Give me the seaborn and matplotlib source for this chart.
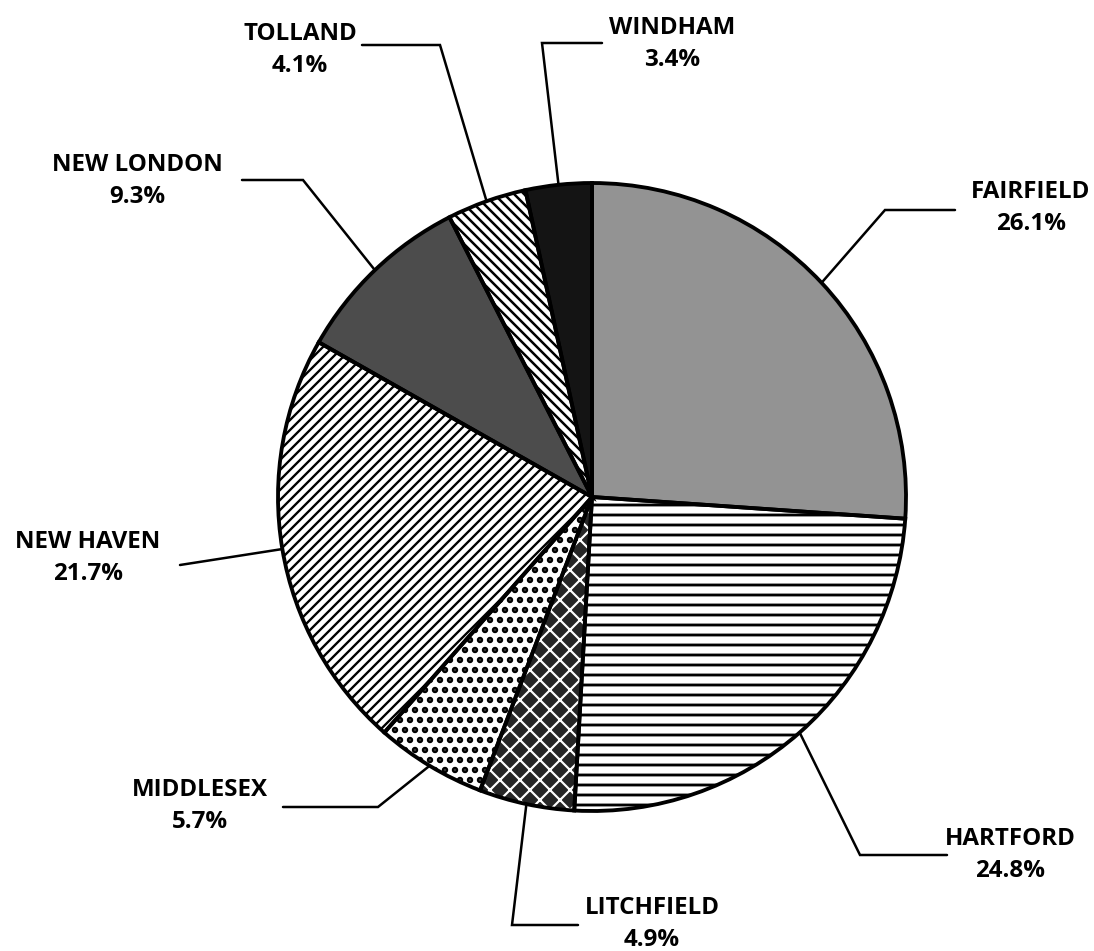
import matplotlib
matplotlib.use("Agg")
import numpy as np
import matplotlib.pyplot as plt
from matplotlib.patches import Wedge
import seaborn as sns

# Share of total by Connecticut county (percent), clockwise from 12 o'clock
counties = ["FAIRFIELD", "HARTFORD", "LITCHFIELD", "MIDDLESEX",
            "NEW HAVEN", "NEW LONDON", "TOLLAND", "WINDHAM"]
shares = [26.1, 24.8, 4.9, 5.7, 21.7, 9.3, 4.1, 3.4]

W, H, DPI = 1094, 951, 120

sns.set_theme(style="white")
plt.rcParams["font.family"] = ["Open Sans", "DejaVu Sans"]
plt.rcParams["hatch.linewidth"] = 1.5

# face colour, hatch, hatch colour, hatch line width for each slice
fills = {
    "FAIRFIELD":  ("#939393", None, "black", 1.5),
    "HARTFORD":   ("white", "--", "black", 1.7),
    "LITCHFIELD": ("#262626", "xx", "white", 1.3),
    "MIDDLESEX":  ("white", "..", "black", 2.6),
    "NEW HAVEN":  ("white", "////", "black", 1.4),
    "NEW LONDON": ("#4c4c4c", None, "black", 1.5),
    "TOLLAND":    ("white", "\\\\\\\\", "black", 1.5),
    "WINDHAM":    ("#141414", None, "black", 1.5),
}

# label centre (x, y) in pixels, leader elbow and leader end
layout = {
    "FAIRFIELD":  ((1031, 192), (885, 210), (955, 210)),
    "HARTFORD":   ((1010, 839), (860, 855), (947, 855)),
    "LITCHFIELD": ((652, 908), (512, 925), (578, 925)),
    "MIDDLESEX":  ((200, 790), (378, 807), (283, 807)),
    "NEW HAVEN":  ((88, 542), None, (180, 565)),
    "NEW LONDON": ((137, 165), (303, 180), (242, 180)),
    "TOLLAND":    ((300, 34), (440, 45), (362, 45)),
    "WINDHAM":    ((672, 28), (542, 43), (602, 43)),
}

cx, cy, R = 592, 497, 314


def Y(y):
    return H - y


fig = plt.figure(figsize=(W / DPI, H / DPI), dpi=DPI)
ax = fig.add_axes([0, 0, 1, 1])

wedges, _ = ax.pie(shares, startangle=90, counterclock=False,
                   center=(cx, Y(cy)), radius=R, frame=True)

for w, name, share in zip(wedges, counties, shares):
    face, hatch, hcol, hlw = fills[name]
    w.set_facecolor(face)
    w.set_edgecolor(hcol)
    w.set_linewidth(0)
    if hatch:
        w.set_hatch(hatch)
        if hasattr(w, "set_hatch_linewidth"):
            w.set_hatch_linewidth(hlw)
    ax.add_patch(Wedge(w.center, w.r, w.theta1, w.theta2, fill=False,
                       edgecolor="black", linewidth=2.3, joinstyle="miter"))

    # leader line from the slice's mid-angle on the rim
    mid = np.deg2rad((w.theta1 + w.theta2) / 2)
    rim_x = w.center[0] + w.r * np.cos(mid)
    rim_y = w.center[1] + w.r * np.sin(mid)
    (tx, ty), elbow, end = layout[name]
    xs, ys = [rim_x], [rim_y]
    if elbow is not None:
        xs.append(elbow[0]); ys.append(Y(elbow[1]))
    xs.append(end[0]); ys.append(Y(end[1]))
    ax.plot(xs, ys, color="black", linewidth=1.5, solid_joinstyle="miter")

    ax.text(tx, Y(ty), name, ha="center", va="center",
            fontsize=14.5, fontweight="bold", color="black")
    ax.text(tx, Y(ty + 32), f"{share:.1f}%",
            ha="center", va="center", fontsize=14.5, fontweight="bold",
            color="black")

ax.set_xlim(0, W)
ax.set_ylim(0, H)
ax.set_aspect("equal")
ax.axis("off")

fig.savefig("out.png", dpi=DPI, facecolor="white")
